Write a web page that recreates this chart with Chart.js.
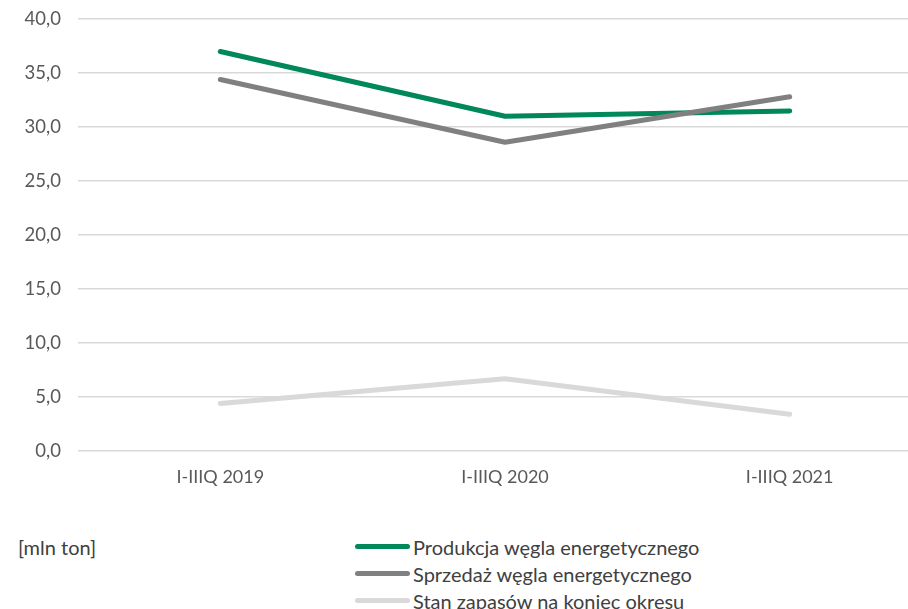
<!DOCTYPE html>
<html>
<head>
<meta charset="utf-8">
<script src="https://cdn.jsdelivr.net/npm/chart.js@4"></script>
<style>
    html, body { margin: 0; padding: 0; background: #fff; overflow: hidden; width: 908px; height: 609px; }
    #wrap { position: absolute; left: 0; top: -9px; width: 935px; height: 511px; }
    #unit { position: absolute; left: 18px; top: 535px; font: 20px Lato, sans-serif; color: #404040; }
    #legend { position: absolute; left: 355px; top: 533px; font: 20px Lato, sans-serif; color: #404040; }
    #legend .item { display: flex; align-items: center; height: 27px; }
    #legend .swatch { width: 55px; height: 5px; border-radius: 3px; margin-right: 3px; }
</style>
</head>
<body>
<div id="wrap"><canvas id="chart"></canvas></div>
<div id="unit">[mln ton]</div>
<div id="legend"></div>
<script>
const categories = ['I-IIIQ 2019', 'I-IIIQ 2020', 'I-IIIQ 2021'];
const seriesNames = ['Produkcja węgla energetycznego', 'Sprzedaż węgla energetycznego', 'Stan zapasów na koniec okresu'];
const production = [37.0, 31.0, 31.5];
const sales = [34.4, 28.6, 32.8];
const stock = [4.4, 6.7, 3.4];
const colors = ['#00875A', '#808080', '#D9D9D9'];

document.addEventListener('DOMContentLoaded', function() {
    const values = [production, sales, stock];
    const datasets = seriesNames.map((name, i) => ({
        label: name,
        data: values[i],
        borderColor: colors[i],
        backgroundColor: colors[i],
        borderWidth: 5,
        borderCapStyle: 'round',
        borderJoinStyle: 'round',
        pointRadius: 0,
        tension: 0
    }));
    // draw the lightest series first so the dark lines stay on top, like the original
    datasets.reverse();

    new Chart(document.getElementById('chart'), {
        type: 'line',
        data: { labels: categories, datasets },
        options: {
            responsive: true,
            maintainAspectRatio: false,
            animation: false,
            layout: { padding: { top: 10, right: 3, bottom: 0, left: 0 } },
            plugins: { legend: { display: false }, tooltip: { enabled: false } },
            scales: {
                x: {
                    offset: true,
                    grid: { display: false, drawTicks: false },
                    border: { display: false },
                    ticks: { color: '#595959', font: { family: 'Lato', size: 18 }, padding: 15 },
                    afterFit: s => { s.height = 51; }
                },
                y: {
                    min: 0,
                    max: 40,
                    grid: { color: '#D9D9D9', lineWidth: 1.5, drawTicks: false },
                    border: { display: false },
                    ticks: {
                        stepSize: 5,
                        color: '#595959',
                        font: { family: 'Lato', size: 18.5 },
                        padding: 17,
                        callback: v => v.toFixed(1).replace('.', ',')
                    },
                    afterFit: s => { s.width = 78; }
                }
            }
        }
    });

    const legend = document.getElementById('legend');
    seriesNames.forEach((name, i) => {
        const item = document.createElement('div');
        item.className = 'item';
        item.innerHTML = `<span class="swatch" style="background:${colors[i]}"></span><span>${name}</span>`;
        legend.appendChild(item);
    });
});
</script>
</body>
</html>
